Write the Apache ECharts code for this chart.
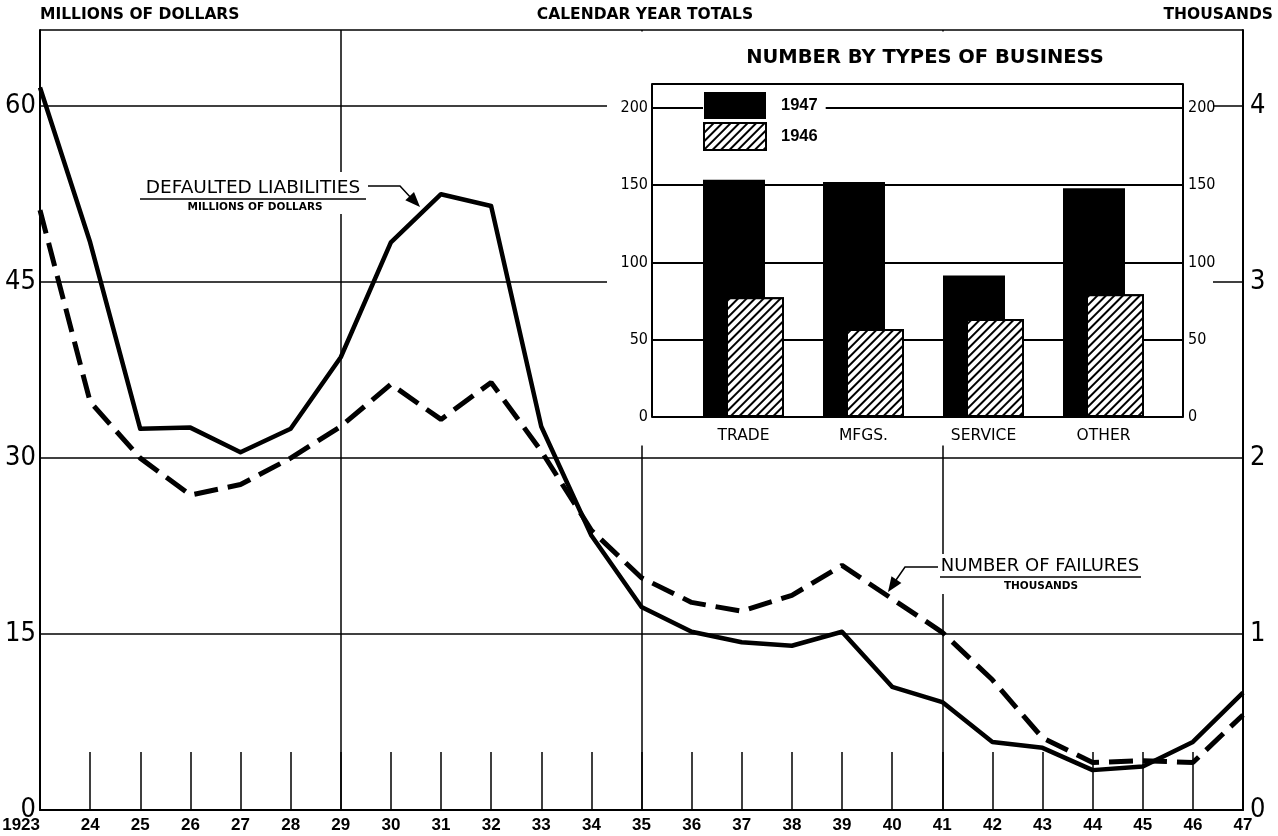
<!DOCTYPE html>
<html>
<head>
<meta charset="utf-8">
<script src="https://cdn.jsdelivr.net/npm/echarts@6/dist/echarts.min.js"></script>
<style>
  html, body { margin: 0; padding: 0; background: #fff; }
  #chart { width: 1278px; height: 836px; }
</style>
</head>
<body>
<div id="chart"></div>
<script>
// calendar years and their axis labels
var yearLabels = ['1923', '24', '25', '26', '27', '28', '29', '30', '31', '32', '33', '34',
  '35', '36', '37', '38', '39', '40', '41', '42', '43', '44', '45', '46', '47'];
// defaulted liabilities, millions of dollars
var liabilities = [61.6, 48.4, 32.5, 32.6, 30.5, 32.5, 38.6, 48.4, 52.5, 51.5, 32.7, 23.4,
  17.3, 15.2, 14.3, 14.0, 15.2, 10.5, 9.2, 5.8, 5.3, 3.4, 3.7, 5.8, 10.0];
// number of failures, thousands
var failures = [3.41, 2.32, 2.0, 1.79, 1.85, 2.0, 2.18, 2.42, 2.22, 2.43, 2.04, 1.59,
  1.32, 1.18, 1.13, 1.22, 1.39, 1.2, 1.01, 0.74, 0.41, 0.27, 0.28, 0.27, 0.54];
// inset: number by types of business
var businessTypes = ['TRADE', 'MFGS.', 'SERVICE', 'OTHER'];
var number1947 = [153.5, 152, 91.5, 148];
var number1946 = [77.5, 57, 63.5, 79.5];

var FONT = '"DejaVu Sans", sans-serif';
var NUMFONT = '"Liberation Sans", sans-serif';
var NARROW = '"Liberation Sans Narrow", "DejaVu Sans Condensed", sans-serif';

var chart = echarts.init(document.getElementById('chart'), null, { renderer: 'canvas' });

function arrowHead(tip, from) {
  var dx = tip[0] - from[0], dy = tip[1] - from[1];
  var len = Math.sqrt(dx * dx + dy * dy);
  var ux = dx / len, uy = dy / len;
  var bx = tip[0] - ux * 15, by = tip[1] - uy * 15;
  return [tip, [bx - uy * 6, by + ux * 6], [bx + uy * 6, by - ux * 6]];
}

var option = {
  backgroundColor: '#fff',
  animation: false,
  grid: [
    { left: 40, right: 35, top: 30, bottom: 26, outerBoundsMode: 'none', containLabel: false },
    { left: 652, right: 95, top: 84, bottom: 419, z: 5, outerBoundsMode: 'none', containLabel: false },
    { left: 683.5, right: 114.5, top: 84, bottom: 419, z: 5, outerBoundsMode: 'none', containLabel: false }
  ],
  legend: {
    data: ['1947', '1946'],
    orient: 'vertical',
    left: 703,
    top: 92,
    itemWidth: 62,
    itemHeight: 27,
    itemGap: 3,
    padding: [0, 8, 0, 0],
    icon: 'rect',
    backgroundColor: '#fff',
    textStyle: { color: '#000', fontSize: 16.5, fontWeight: 'bold', fontFamily: NUMFONT, padding: [0, 0, 0, 10] },
    z: 8
  },
  xAxis: [
    {
      gridIndex: 0,
      type: 'category',
      data: yearLabels,
      boundaryGap: false,
      axisLine: { lineStyle: { color: '#000', width: 2 } },
      axisTick: { show: true, inside: true, length: 58, interval: 0, lineStyle: { color: '#000', width: 1.5 } },
      axisLabel: {
        interval: 0, color: '#000', fontSize: 17, fontWeight: 'bold', fontFamily: NUMFONT,
        margin: 7, alignMinLabel: 'right'
      },
      splitLine: {
        show: true,
        interval: function (i) { return i === 6 || i === 12 || i === 18; },
        lineStyle: { color: '#000', width: 1.5 }
      },
      z: 0
    },
    { gridIndex: 1, type: 'value', min: 0, max: 1, show: false },
    {
      gridIndex: 2,
      type: 'category',
      data: businessTypes,
      axisLine: { show: false },
      axisTick: { show: false },
      axisLabel: { color: '#000', fontSize: 15.5, fontFamily: FONT, margin: 11 },
      z: 5
    }
  ],
  yAxis: [
    {
      gridIndex: 0, type: 'value', min: 0, max: 66.5, interval: 15,
      axisLine: { show: true, lineStyle: { color: '#000', width: 2 } },
      axisTick: { show: false },
      axisLabel: { showMaxLabel: false, color: '#000', fontSize: 27, fontFamily: NARROW, margin: 4 },
      splitLine: { lineStyle: { color: '#000', width: 1.5 } },
      z: 0
    },
    {
      gridIndex: 0, type: 'value', position: 'right', min: 0, max: 66.5 / 15, interval: 1,
      axisLine: { show: true, lineStyle: { color: '#000', width: 2 } },
      axisTick: { show: false },
      axisLabel: { showMaxLabel: false, color: '#000', fontSize: 27, fontFamily: NARROW, margin: 7 },
      splitLine: { show: false },
      z: 0
    },
    {
      gridIndex: 1, type: 'value', min: 0, max: 215.5, interval: 50,
      axisLine: { show: true, lineStyle: { color: '#000', width: 2 } },
      axisTick: { show: false },
      axisLabel: { showMaxLabel: false, color: '#000', fontSize: 16, fontFamily: NARROW, margin: 4 },
      splitLine: { lineStyle: { color: '#000', width: 2 } },
      z: 5
    },
    {
      gridIndex: 1, type: 'value', position: 'right', min: 0, max: 215.5, interval: 50,
      axisLine: { show: true, lineStyle: { color: '#000', width: 2 } },
      axisTick: { show: false },
      axisLabel: { showMaxLabel: false, color: '#000', fontSize: 16, fontFamily: NARROW, margin: 5 },
      splitLine: { show: false },
      z: 5
    },
    { gridIndex: 2, type: 'value', min: 0, max: 215.5, show: false }
  ],
  series: [
    {
      name: 'DEFAULTED LIABILITIES',
      type: 'line',
      xAxisIndex: 0, yAxisIndex: 0,
      data: liabilities,
      symbol: 'none',
      lineStyle: { color: '#000', width: 4.5, join: 'round' },
      z: 2
    },
    {
      name: 'NUMBER OF FAILURES',
      type: 'line',
      xAxisIndex: 0, yAxisIndex: 1,
      data: failures,
      symbol: 'none',
      lineStyle: { color: '#000', width: 5, type: [24, 10] },
      z: 2
    },
    {
      name: '1947',
      type: 'bar',
      xAxisIndex: 2, yAxisIndex: 4,
      data: number1947,
      barWidth: 62,
      barGap: '-62.9%',
      itemStyle: { color: '#000' },
      z: 6
    },
    {
      name: '1946',
      type: 'bar',
      xAxisIndex: 2, yAxisIndex: 4,
      data: number1946,
      barWidth: 58,
      itemStyle: {
        color: '#fff',
        borderColor: '#000',
        borderWidth: 2,
        decal: {
          symbol: 'rect', symbolSize: 1,
          dashArrayX: [1, 0], dashArrayY: [2, 4],
          rotation: -Math.PI / 4,
          color: '#000', backgroundColor: '#fff'
        }
      },
      z: 7
    }
  ],
  graphic: [
    // white panel behind the inset
    { type: 'rect', shape: { x: 607, y: 31.5, width: 606, height: 414 }, style: { fill: '#fff' }, z: 1 },
    // headers
    { type: 'text', x: 40, y: 15, z: 10, style: { text: 'MILLIONS OF DOLLARS', font: 'bold 15.5px ' + FONT, fill: '#000', align: 'left', verticalAlign: 'middle' } },
    { type: 'text', x: 645, y: 15, z: 10, style: { text: 'CALENDAR YEAR TOTALS', font: 'bold 15.5px ' + FONT, fill: '#000', align: 'center', verticalAlign: 'middle' } },
    { type: 'text', x: 1273, y: 15, z: 10, style: { text: 'THOUSANDS', font: 'bold 15.5px ' + FONT, fill: '#000', align: 'right', verticalAlign: 'middle' } },
    { type: 'text', x: 925, y: 58, z: 10, style: { text: 'NUMBER BY TYPES OF BUSINESS', font: 'bold 19.5px ' + FONT, fill: '#000', align: 'center', verticalAlign: 'middle' } },
    // defaulted liabilities label
    { type: 'rect', shape: { x: 138, y: 172, width: 228, height: 42 }, style: { fill: '#fff' }, z: 3 },
    { type: 'text', x: 253, y: 188, z: 10, style: { text: 'DEFAULTED LIABILITIES', font: '18.5px ' + FONT, fill: '#000', align: 'center', verticalAlign: 'middle' } },
    { type: 'line', shape: { x1: 140, y1: 199, x2: 366, y2: 199 }, style: { stroke: '#000', lineWidth: 1.5 }, z: 10 },
    { type: 'text', x: 255, y: 207, z: 10, style: { text: 'MILLIONS OF DOLLARS', font: 'bold 10.5px ' + FONT, fill: '#000', align: 'center', verticalAlign: 'middle' } },
    { type: 'polyline', shape: { points: [[368, 186], [400, 186], [412, 199]] }, style: { stroke: '#000', lineWidth: 1.5, fill: null }, z: 10 },
    { type: 'polygon', shape: { points: arrowHead([420, 207], [400, 186]) }, style: { fill: '#000' }, z: 10 },
    // number of failures label
    { type: 'rect', shape: { x: 936, y: 554, width: 208, height: 40 }, style: { fill: '#fff' }, z: 3 },
    { type: 'text', x: 1040, y: 566, z: 10, style: { text: 'NUMBER OF FAILURES', font: '18px ' + FONT, fill: '#000', align: 'center', verticalAlign: 'middle' } },
    { type: 'line', shape: { x1: 940, y1: 577, x2: 1141, y2: 577 }, style: { stroke: '#000', lineWidth: 1.5 }, z: 10 },
    { type: 'text', x: 1041, y: 586, z: 10, style: { text: 'THOUSANDS', font: 'bold 10.5px ' + FONT, fill: '#000', align: 'center', verticalAlign: 'middle' } },
    { type: 'polyline', shape: { points: [[938, 567], [905, 567], [896, 580]] }, style: { stroke: '#000', lineWidth: 1.5, fill: null }, z: 10 },
    { type: 'polygon', shape: { points: arrowHead([888, 592], [905, 567]) }, style: { fill: '#000' }, z: 10 }
  ]
};

chart.setOption(option);
</script>
</body>
</html>
